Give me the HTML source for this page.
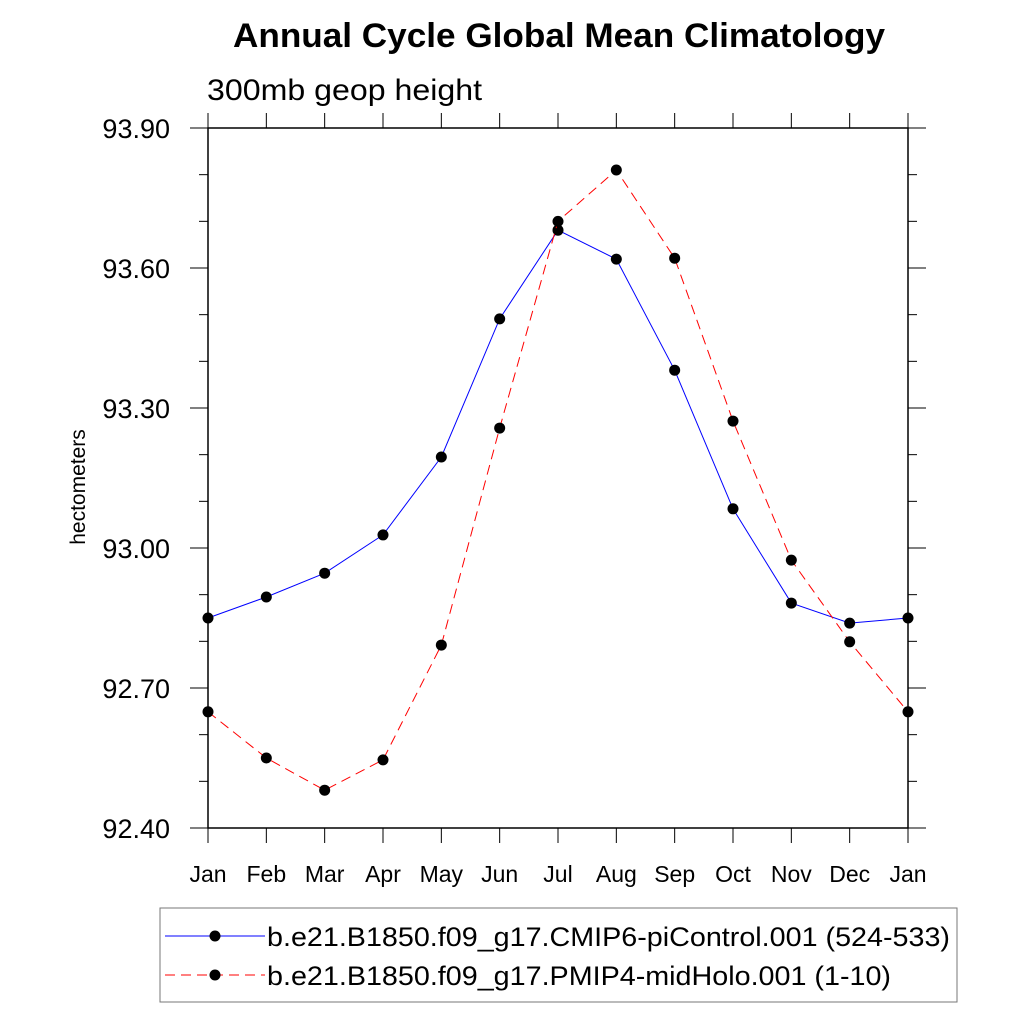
<!DOCTYPE html>
<html><head><meta charset="utf-8"><style>
body{margin:0;background:#fff}
svg text{font-family:"Liberation Sans",sans-serif}
</style></head><body>
<svg id="chart" width="1024" height="1024" viewBox="0 0 1024 1024" xmlns="http://www.w3.org/2000/svg">
<text x="233" y="47" font-size="34" font-weight="bold" textLength="652" lengthAdjust="spacingAndGlyphs">Annual Cycle Global Mean Climatology</text>
<text x="207" y="100" font-size="30" textLength="275" lengthAdjust="spacingAndGlyphs">300mb geop height</text>
<text transform="translate(85,487) rotate(-90)" font-size="21" text-anchor="middle">hectometers</text>
<g id="axes"></g>
<g id="series"></g>
<rect x="160" y="908" width="797" height="94" fill="none" stroke="#777" stroke-width="1"/>
<g id="legend"></g>
</svg>
<script>
const months=["Jan","Feb","Mar","Apr","May","Jun","Jul","Aug","Sep","Oct","Nov","Dec","Jan"];
const yTicks=[92.40,92.70,93.00,93.30,93.60,93.90];
const piControl=[92.85,92.895,92.946,93.028,93.195,93.491,93.681,93.619,93.381,93.084,92.882,92.839,92.85];
const midHolo=[92.649,92.55,92.481,92.546,92.792,93.257,93.70,93.81,93.621,93.272,92.974,92.799,92.649];
const labels=["b.e21.B1850.f09_g17.CMIP6-piControl.001 (524-533)","b.e21.B1850.f09_g17.PMIP4-midHolo.001 (1-10)"];
const legendLens=[683,624];
const L=208,R=908,T=128,B=828,ymin=92.4,ymax=93.9;
const xs=i=>L+i*(R-L)/(months.length-1);
const ys=v=>B-(v-ymin)/(ymax-ymin)*(B-T);
const NS="http://www.w3.org/2000/svg";
function mk(tag,attrs,parent){const e=document.createElementNS(NS,tag);for(const k in attrs)e.setAttribute(k,attrs[k]);parent.appendChild(e);return e;}
const ax=document.getElementById('axes');
const frame=mk('rect',{x:L,y:T,width:R-L,height:B-T,fill:'none',stroke:'#000','stroke-width':1.5},ax);


for(let v=Math.round(ymin*10);v<=Math.round(ymax*10);v++){
  const y=ys(v/10);const major=(v-924)%3===0;const len=major?18:9;
  const a=mk('line',{x1:L-len,x2:L,y1:y,y2:y,stroke:'#000'},ax);
  
  
  const b=mk('line',{x1:R,x2:R+len,y1:y,y2:y,stroke:'#000'},ax);
  
  
}
yTicks.forEach(v=>{
  const t=mk('text',{x:170,y:ys(v)+10,'font-size':27,'text-anchor':'end'},ax);t.textContent=v.toFixed(2);
  
  
});
months.forEach((m,i)=>{
  const x=xs(i);
  const a=mk('line',{x1:x,x2:x,y1:B,y2:B+15,stroke:'#000'},ax);
  
  
  const b=mk('line',{x1:x,x2:x,y1:T-15,y2:T,stroke:'#000'},ax);
  
  
  const t=mk('text',{x:x,y:882,'font-size':23,'text-anchor':'middle'},ax);t.textContent=m;
  
  
});
const sg=document.getElementById('series');
function series(data,color,dash,name){
  const p=mk('polyline',{points:data.map((v,i)=>xs(i)+','+ys(v)).join(' '),fill:'none',stroke:color,'stroke-width':1,'stroke-dasharray':dash},sg);
  
  
  data.forEach((v,i)=>{
    const c=mk('circle',{cx:xs(i),cy:ys(v),r:5.5,fill:'#000'},sg);
    
    
  });
}
series(piControl,'#00f','none','picontrol');
series(midHolo,'#f00','10 6','midholo');
const lg=document.getElementById('legend');
[['#00f','none',936],['#f00','10 6',975]].forEach((s,k)=>{
  const l=mk('line',{x1:165,x2:265,y1:s[2],y2:s[2],stroke:s[0],'stroke-dasharray':s[1]},lg);
  
  
  const c=mk('circle',{cx:215,cy:s[2],r:5.5,fill:'#000'},lg);
  
  
  const t=mk('text',{x:267,y:s[2]+10,'font-size':27,textLength:legendLens[k],lengthAdjust:'spacingAndGlyphs'},lg);t.textContent=labels[k];
  
  
});
</script>
</body></html>
